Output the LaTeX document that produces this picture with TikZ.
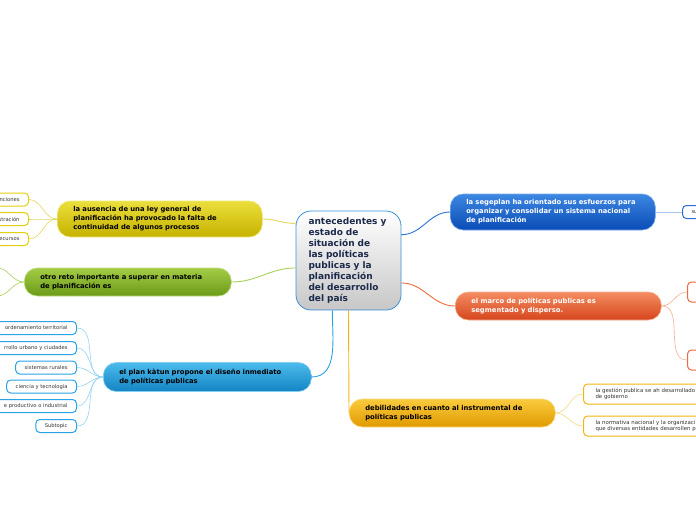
\documentclass[tikz,border=0pt]{standalone}
\usepackage{fontspec}
\setmainfont{DejaVu Sans}
\usetikzlibrary{positioning}
\definecolor{YlwLt}{HTML}{EBDF3C}
\definecolor{YlwDk}{HTML}{C6B200}
\definecolor{YlwLn}{HTML}{E2D65C}
\definecolor{YlwBd}{HTML}{E3CF10}
\definecolor{GrnLt}{HTML}{A4CC46}
\definecolor{GrnDk}{HTML}{6B9B18}
\definecolor{GrnLn}{HTML}{A9CF58}
\definecolor{SkyLt}{HTML}{4CBBEC}
\definecolor{SkyDk}{HTML}{1484C4}
\definecolor{SkyLn}{HTML}{2AA3E6}
\definecolor{SkySub}{HTML}{96D2F2}
\definecolor{BluLt}{HTML}{3D87E2}
\definecolor{BluDk}{HTML}{0A4CB6}
\definecolor{BluLn}{HTML}{2C6FD6}
\definecolor{BluSub}{HTML}{A6C6EE}
\definecolor{OrgLt}{HTML}{F48D62}
\definecolor{OrgDk}{HTML}{D6451C}
\definecolor{OrgLn}{HTML}{EE6A3E}
\definecolor{OrgSub}{HTML}{F6AE92}
\definecolor{GldLt}{HTML}{FACB3E}
\definecolor{GldDk}{HTML}{E09A00}
\definecolor{GldLn}{HTML}{F2B414}
\definecolor{GldSub}{HTML}{F7D87C}
\definecolor{CtrLn}{HTML}{3A90D8}
\definecolor{CtrTx}{HTML}{1B2A4A}

\begin{document}
\begin{tikzpicture}[x=1pt,y=-1pt,
  branch/.style={draw=#1Lt!70!white,top color=#1Lt,bottom color=#1Dk,
                 rounded corners=13pt,line width=0.6pt,anchor=west,
                 text width=173pt,inner xsep=16pt,align=left,
                 font=\fontsize{6.8}{8.9}\selectfont\bfseries,text=black},
  sub/.style={draw=#1,fill=white,rounded corners=4pt,line width=1pt,
              minimum height=13pt,inner xsep=9pt,inner ysep=2pt,
              font=\fontsize{5.2}{6.3}\selectfont,text=black!80},
  cut/.style={text width=#1,align=right},
  link/.style={draw=#1,line width=0.9pt},
  sublink/.style={draw=#1,line width=0.6pt}
]
  \useasboundingbox (0,0) rectangle (696,520);
  \clip (0,0) rectangle (696,520);

  % Central topic
  \node[draw=CtrLn,line width=0.8pt,top color=white,bottom color=black!22,
        rounded corners=15pt,minimum width=105pt,minimum height=99pt,
        text width=80pt,inner xsep=12.5pt,align=left,text=CtrTx,
        font=\fontsize{9}{11}\selectfont\bfseries] (ctr) at (348.5,260.5)
    {antecedentes y\\estado de\\situación de\\las políticas\\publicas y la\\planificación\\del desarrollo\\del país};

  % Left branches
  \node[branch=Ylw,minimum height=36pt] (ley) at (57,219)
    {la ausencia de una ley general de\\planificación ha provocado la falta de\\continuidad de algunos procesos};
  \node[branch=Grn,minimum height=28pt,text width=175pt] (reto) at (24,282)
    {otro reto importante a superar en materia\\de planificación es};
  \node[branch=Sky,minimum height=29pt,text width=176pt] (kat) at (103,377)
    {el plan kàtun propone el diseño inmediato\\de políticas publicas};

  % Right branches
  \node[branch=Blu,minimum height=36pt,text=white] (seg) at (450,212)
    {la segeplan ha orientado sus esfuerzos para\\organizar y consolidar un sistema nacional\\de planificación};
  \node[branch=Org,minimum height=28pt,text=white,text width=174pt] (mar) at (455,306)
    {el marco de políticas publicas es\\segmentado y disperso.};
  \node[branch=Gld,minimum height=28pt,text width=174pt] (deb) at (349,413)
    {debilidades en cuanto al instrumental de\\políticas publicas};

  % Subtopics of ley
  \node[sub=YlwBd,cut=60pt,anchor=east] (ley1) at (29,199.5) {nciones};
  \node[sub=YlwBd,cut=60pt,anchor=east] (ley2) at (29,219) {stración};
  \node[sub=YlwBd,cut=60pt,anchor=east] (ley3) at (29,239) {ecursos};

  % Subtopics of reto (off the page)
  \coordinate (reto1) at (-3,268);
  \coordinate (reto2) at (-3,296);

  % Subtopics of kat
  \node[sub=SkyLn,cut=90pt,anchor=east] (kat1) at (77,328) {ordenamiento territorial};
  \node[sub=SkyLn,cut=90pt,anchor=east] (kat2) at (77,348) {rrollo urbano y ciudades};
  \node[sub=SkyLn,anchor=east] (kat3) at (77,367.5) {sistemas rurales};
  \node[sub=SkyLn,anchor=east] (kat4) at (77,386.5) {ciencia y tecnología};
  \node[sub=SkyLn,cut=90pt,anchor=east] (kat5) at (77,406) {e productivo o industrial};
  \node[sub=SkyLn,anchor=east] (kat6) at (77,426) {Subtopic};

  % Subtopics of seg, mar, deb
  \node[sub=BluLn,anchor=west,text width=40pt,align=left] (seg1) at (682,212) {su};
  \node[sub=OrgLn,anchor=west,minimum width=50pt,minimum height=20pt] (mar1) at (687,292) {};
  \node[sub=OrgLn,anchor=west,minimum width=50pt,minimum height=20pt] (mar2) at (687,360) {};
  \node[sub=GldLn,anchor=west,minimum height=20pt,inner xsep=12pt,
        text width=140pt,align=left,font=\fontsize{5.4}{6.3}\selectfont] (deb1) at (583,394)
    {la gestión publica se ah desarrollado\\de gobierno};
  \node[sub=GldLn,anchor=west,minimum height=20pt,inner xsep=12pt,
        text width=140pt,align=left,font=\fontsize{5.4}{6.3}\selectfont] (deb2) at (583,426)
    {la normativa nacional y la organizaci\\que diversas entidades desarrollen p};

  % Main connectors
  \draw[link=BluLn] (ctr.26) to[out=0,in=180] (seg.west);
  \draw[link=OrgLn] (ctr.-23) to[out=0,in=180] (mar.west);
  \draw[link=YlwLn] (ctr.145) to[out=180,in=0] (ley.east);
  \draw[link=GrnLn] (ctr.188) to[out=180,in=0] (reto.east);
  \draw[link=SkyLn] (ctr.252) to[out=-90,in=0] (kat.east);
  \draw[link=GldLn] (ctr.south) -- (deb.west);

  % Sub connectors
  \foreach \s in {ley1,ley2,ley3}
    \draw[sublink=YlwLn] (ley.west) to[out=180,in=0] (\s.east);
  \foreach \s in {reto1,reto2}
    \draw[sublink=GrnLn] (reto.west) to[out=180,in=0] (\s);
  \foreach \s in {kat1,kat2,kat3,kat4,kat5,kat6}
    \draw[sublink=SkySub] (kat.west) to[out=180,in=0] (\s.east);
  \draw[sublink=BluSub,line width=1pt] (seg.east) -- (seg1.west);
  \foreach \s in {mar1,mar2}
    \draw[sublink=OrgSub] (mar.east) to[out=0,in=180] (\s.west);
  \foreach \s in {deb1,deb2}
    \draw[sublink=GldSub] (deb.east) to[out=0,in=180] (\s.west);
\end{tikzpicture}
\end{document}
